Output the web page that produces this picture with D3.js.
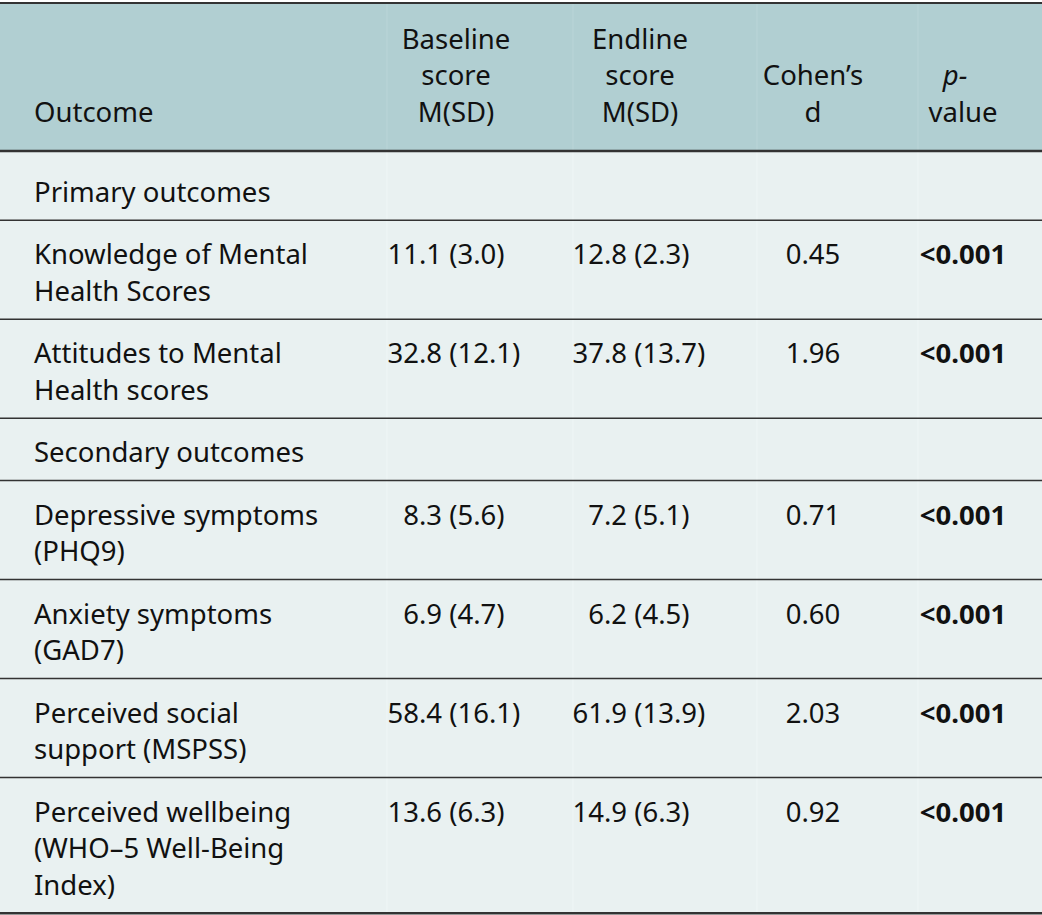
<!DOCTYPE html>
<html>
  <head>
    <title>Outcomes</title>
    <meta charset="utf-8">
    <script src="https://d3js.org/d3.v7.min.js"></script>
    <style>
      body { margin: 0; background: #fff; }
      text { font-family: "Noto Sans", sans-serif; font-size: 27.5px; fill: #111; }
    </style>
  </head>
  <body>
  <div id="svgcontainer"></div>
  <script>
    // table values
    var headers = [["Outcome"], ["Baseline", "score", "M(SD)"], ["Endline", "score", "M(SD)"], ["Cohen\u2019s", "d"], ["p-", "value"]];
    var sections = ["Primary outcomes", "Secondary outcomes"];
    var sectionStart = [0, 2];
    var outcomes = [
      ["Knowledge of Mental", "Health Scores"],
      ["Attitudes to Mental", "Health scores"],
      ["Depressive symptoms", "(PHQ9)"],
      ["Anxiety symptoms", "(GAD7)"],
      ["Perceived social", "support (MSPSS)"],
      ["Perceived wellbeing", "(WHO\u20135 Well-Being", "Index)"]
    ];
    var baselineM = [11.1, 32.8, 8.3, 6.9, 58.4, 13.6];
    var baselineSD = [3.0, 12.1, 5.6, 4.7, 16.1, 6.3];
    var endlineM = [12.8, 37.8, 7.2, 6.2, 61.9, 14.9];
    var endlineSD = [2.3, 13.7, 5.1, 4.5, 13.9, 6.3];
    var cohensD = [0.45, 1.96, 0.71, 0.60, 2.03, 0.92];
    var pValues = ["<0.001", "<0.001", "<0.001", "<0.001", "<0.001", "<0.001"];

    var width = 1042, height = 915;
    var lineH = 36.75;
    var f1 = d3.format(".1f"), f2 = d3.format(".2f");

    var svg = d3.select('#svgcontainer')
      .append('svg')
      .attr('width', width)
      .attr('height', height);

    // build the row list: section rows and data rows
    var rows = [];
    outcomes.forEach(function(o, i) {
      var s = sectionStart.indexOf(i);
      if (s >= 0) rows.push({type: 'section', lines: [sections[s]], first: i == 0});
      rows.push({type: 'data', lines: o, i: i});
    });

    var headTop = 4, headBottom = 151;
    var y = headBottom + 1;
    rows.forEach(function(r) {
      r.top = y;
      r.h = 25.5 + lineH * r.lines.length + (r.first ? 6 : 0);
      r.base = y + 44 + (r.first ? 6 : 0);
      y += r.h;
    });
    var bottom = y;

    // column x positions: left text, decimal points, centres
    var x = {label: 34, base: 419, end: 604, d: 813, p: 963};
    var sep = [387, 573, 757, 918];

    svg.append('rect').attr('x', 0).attr('y', headTop).attr('width', width)
      .attr('height', headBottom - headTop).attr('fill', '#b1cfd2');
    svg.append('rect').attr('x', 0).attr('y', headBottom).attr('width', width)
      .attr('height', bottom - headBottom).attr('fill', '#e9f1f1');

    // faint column separators
    svg.selectAll('line.sep-h').data(sep).enter().append('line')
      .attr('x1', d => d).attr('x2', d => d).attr('y1', headTop).attr('y2', headBottom)
      .attr('stroke', '#bad5d8').attr('stroke-width', 1);
    svg.selectAll('line.sep-b').data(sep).enter().append('line')
      .attr('x1', d => d).attr('x2', d => d).attr('y1', headBottom).attr('y2', bottom)
      .attr('stroke', '#eff6f6').attr('stroke-width', 1);

    // header text
    var hx = [x.label, 456, 640, 813, 963];
    var hAnchor = ['start', 'middle', 'middle', 'middle', 'middle'];
    headers.forEach(function(h, c) {
      var t = svg.append('text').attr('text-anchor', hAnchor[c]);
      h.forEach(function(line, k) {
        var ty = 122 - (h.length - 1 - k) * lineH;
        var ts = t.append('tspan').attr('x', hx[c]).attr('y', ty).text(line);
        if (c == 4 && k == 0) ts.style('font-style', 'italic').attr('x', hx[c] - 8);
      });
    });

    // row labels
    rows.forEach(function(r) {
      var t = svg.append('text').attr('x', x.label);
      r.lines.forEach(function(line, k) {
        t.append('tspan').attr('x', x.label).attr('y', r.base + k * lineH).text(line);
      });
    });

    var data = rows.filter(r => r.type == 'data');

    // mean (sd) cells aligned on the decimal point
    function msd(col, means, sds) {
      svg.selectAll('text.int-' + col).data(data).enter().append('text')
        .attr('x', x[col]).attr('y', d => d.base).attr('text-anchor', 'end')
        .text(d => f1(means[d.i]).split('.')[0]);
      svg.selectAll('text.rest-' + col).data(data).enter().append('text')
        .attr('x', x[col]).attr('y', d => d.base)
        .text(d => '.' + f1(means[d.i]).split('.')[1] + ' (' + f1(sds[d.i]) + ')');
    }
    msd('base', baselineM, baselineSD);
    msd('end', endlineM, endlineSD);

    svg.selectAll('text.cd').data(data).enter().append('text')
      .attr('x', x.d).attr('y', d => d.base).attr('text-anchor', 'middle')
      .text(d => f2(cohensD[d.i]));
    svg.selectAll('text.pv').data(data).enter().append('text')
      .attr('x', x.p).attr('y', d => d.base).attr('text-anchor', 'middle')
      .style('font-weight', 'bold')
      .text(d => pValues[d.i]);

    // horizontal rules
    var rules = [{y: 3, w: 2}, {y: headBottom, w: 2.5}]
      .concat(rows.slice(1).map(r => ({y: r.top, w: 1.5})))
      .concat([{y: bottom, w: 2.5}]);
    svg.selectAll('line.rule').data(rules).enter().append('line')
      .attr('x1', 0).attr('x2', width).attr('y1', d => d.y).attr('y2', d => d.y)
      .attr('stroke', '#333').attr('stroke-width', d => d.w);
  </script>
  </body>
</html>
